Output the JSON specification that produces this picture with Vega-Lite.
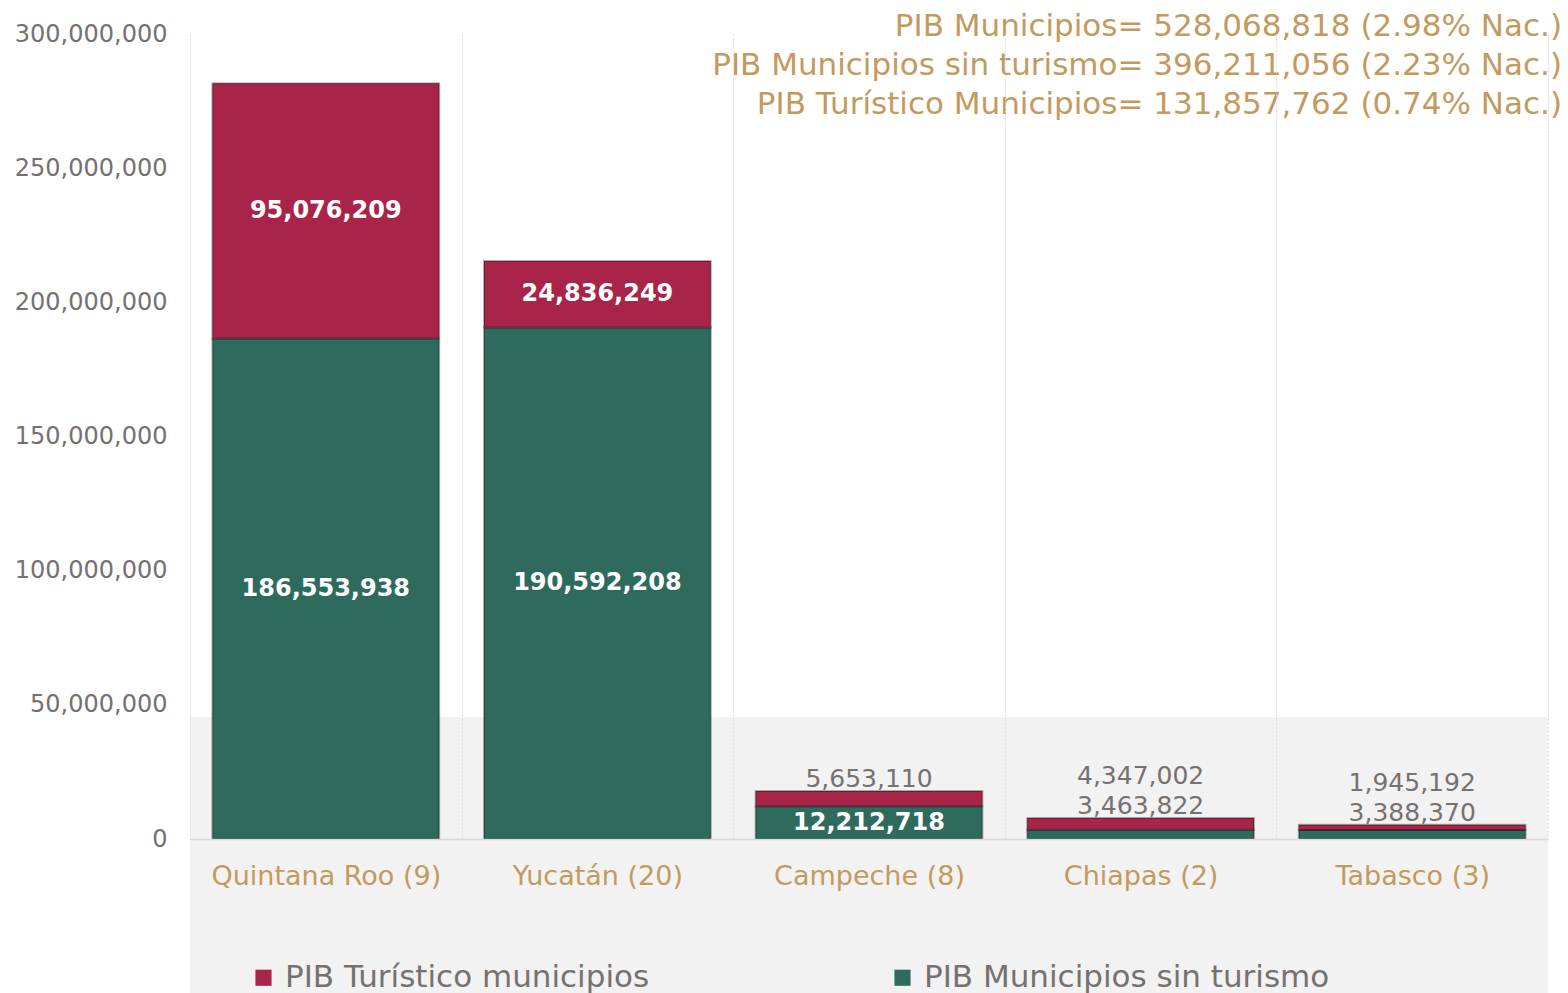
{
  "$schema": "https://vega.github.io/schema/vega-lite/v6.json",
  "width": 1358,
  "height": 805,
  "autosize": {"type": "none"},
  "padding": {"left": 190, "top": 34, "right": 20, "bottom": 154},
  "background": "white",
  "config": {"view": {"stroke": null}, "font": "DejaVu Sans"},
  "title": {
    "text": ["PIB Municipios= 528,068,818 (2.98% Nac.)", "PIB Municipios sin turismo= 396,211,056 (2.23% Nac.)", "PIB Turístico Municipios= 131,857,762 (0.74% Nac.)"],
    "anchor": "end",
    "frame": "group",
    "orient": "top",
    "color": "#C39A5E",
    "font": "DejaVu Sans",
    "fontSize": 31,
    "fontWeight": "normal",
    "lineHeight": 39,
    "baseline": "top",
    "offset": 0,
    "dx": 14,
    "dy": 99
  },
  "data": {
    "values": [
      {"estado": "Quintana Roo (9)", "serie": "PIB Municipios sin turismo", "v": 186553938},
      {"estado": "Quintana Roo (9)", "serie": "PIB Turístico municipios", "v": 95076209},
      {"estado": "Yucatán (20)", "serie": "PIB Municipios sin turismo", "v": 190592208},
      {"estado": "Yucatán (20)", "serie": "PIB Turístico municipios", "v": 24836249},
      {"estado": "Campeche (8)", "serie": "PIB Municipios sin turismo", "v": 12212718},
      {"estado": "Campeche (8)", "serie": "PIB Turístico municipios", "v": 5653110},
      {"estado": "Chiapas (2)", "serie": "PIB Municipios sin turismo", "v": 3463822},
      {"estado": "Chiapas (2)", "serie": "PIB Turístico municipios", "v": 4347002},
      {"estado": "Tabasco (3)", "serie": "PIB Municipios sin turismo", "v": 3388370},
      {"estado": "Tabasco (3)", "serie": "PIB Turístico municipios", "v": 1945192}
    ]
  },
  "layer": [
    {
      "data": {"values": [{}]},
      "mark": {"type": "rect", "color": "#f2f2f2", "clip": false},
      "encoding": {
        "y": {
          "datum": 45500000, "type": "quantitative", "scale": {"domain": [0, 300000000]},
          "axis": {
            "title": null, "values": [0, 50000000, 100000000, 150000000, 200000000, 250000000, 300000000],
            "labelExpr": "format(datum.value, ',')", "labelFont": "DejaVu Sans", "labelFontSize": 24, "labelColor": "#767171",
            "labelPadding": 23, "ticks": false, "domain": false, "gridColor": "#e6e6e6", "zindex": 0
          }
        },
        "y2": {"datum": -60000000}
      }
    },
    {
      "mark": {"type": "bar", "width": {"band": 0.835}, "stroke": "#000000", "strokeOpacity": 0.3, "strokeWidth": 2},
      "encoding": {
        "x": {
          "field": "estado", "type": "nominal", "sort": null,
          "scale": {"paddingInner": 0, "paddingOuter": 0},
          "axis": {
            "title": null, "labelFont": "DejaVu Sans", "labelFontSize": 27, "labelColor": "#C39A5E",
            "labelAngle": 0, "labelPadding": 24, "ticks": false, "domainColor": "#d9d9d9", "domainWidth": 1.5,
            "grid": true, "tickBand": "extent", "gridDash": [2, 2], "gridColor": "#dcdcdc", "zindex": 1, "labelLimit": 400
          }
        },
        "y": {
          "field": "v", "type": "quantitative", "stack": "zero",
          "scale": {"domain": [0, 300000000]},
          "axis": {
            "title": null, "values": [0, 50000000, 100000000, 150000000, 200000000, 250000000, 300000000],
            "labelExpr": "format(datum.value, ',')", "labelFont": "DejaVu Sans", "labelFontSize": 24, "labelColor": "#767171",
            "labelPadding": 23, "ticks": false, "domain": false, "gridColor": "#e6e6e6", "zindex": 0
          }
        },
        "color": {
          "field": "serie", "type": "nominal",
          "scale": {"domain": ["PIB Turístico municipios", "PIB Municipios sin turismo"], "range": ["#A82448", "#2E6B5C"]},
          "legend": {
            "title": null, "orient": "none", "legendX": 58, "legendY": 928, "direction": "horizontal",
            "symbolType": "square", "symbolSize": 260, "symbolStrokeWidth": 0, "labelFont": "DejaVu Sans",
            "labelFontSize": 31, "labelColor": "#767171", "columnPadding": 237, "labelLimit": 500, "labelOffset": 6
          }
        },
        "order": {"field": "serie", "sort": "ascending"}
      }
    },
    {
      "transform": [
        {"stack": "v", "groupby": ["estado"], "sort": [{"field": "serie", "order": "ascending"}], "as": ["v0", "v1"]},
        {"filter": "datum.v >= 10000000"},
        {"fold": ["v0", "v1"], "as": ["k", "pos"]},
        {"aggregate": [{"op": "mean", "field": "pos", "as": "mid"}], "groupby": ["estado", "serie", "v"]}
      ],
      "mark": {"type": "text", "color": "white", "font": "DejaVu Sans", "fontSize": 24, "fontWeight": "bold", "baseline": "middle"},
      "encoding": {
        "x": {"field": "estado", "type": "nominal", "sort": null},
        "y": {"field": "mid", "type": "quantitative"},
        "text": {"field": "v", "type": "quantitative", "format": ","}
      }
    },
    {
      "transform": [
        {"joinaggregate": [{"op": "sum", "field": "v", "as": "total"}, {"op": "max", "field": "v", "as": "maxv"}], "groupby": ["estado"]},
        {"filter": "datum.v < 10000000 && (datum.serie == 'PIB Municipios sin turismo' || datum.maxv >= 10000000)"}
      ],
      "mark": {"type": "text", "color": "#767171", "font": "DejaVu Sans", "fontSize": 25, "baseline": "middle", "dy": -12},
      "encoding": {
        "x": {"field": "estado", "type": "nominal", "sort": null},
        "y": {"field": "total", "type": "quantitative"},
        "text": {"field": "v", "type": "quantitative", "format": ","}
      }
    },
    {
      "transform": [
        {"joinaggregate": [{"op": "sum", "field": "v", "as": "total"}, {"op": "max", "field": "v", "as": "maxv"}], "groupby": ["estado"]},
        {"filter": "datum.serie == 'PIB Turístico municipios' && datum.maxv < 10000000"}
      ],
      "mark": {"type": "text", "color": "#767171", "font": "DejaVu Sans", "fontSize": 25, "baseline": "middle", "dy": -42},
      "encoding": {
        "x": {"field": "estado", "type": "nominal", "sort": null},
        "y": {"field": "total", "type": "quantitative"},
        "text": {"field": "v", "type": "quantitative", "format": ","}
      }
    }
  ]
}
